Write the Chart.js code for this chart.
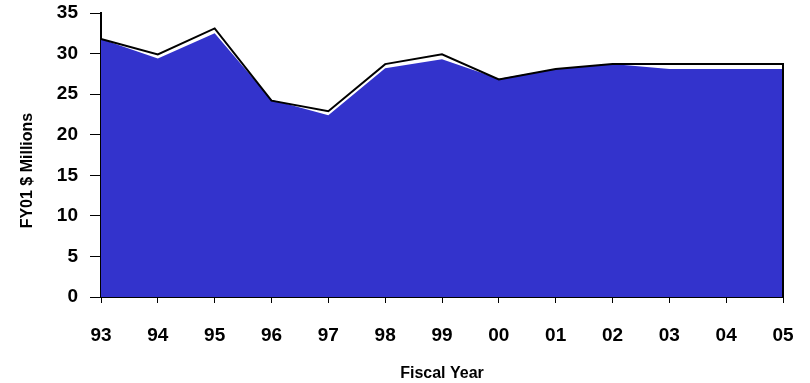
<!DOCTYPE html>
<html>
<head>
<meta charset="utf-8">
<script src="https://cdn.jsdelivr.net/npm/chart.js@4/dist/chart.umd.min.js"></script>
<style>
  html, body { margin: 0; padding: 0; background: #fff; }
  #wrap { width: 810px; height: 383px; }
</style>
</head>
<body>
<div id="wrap"><canvas id="myChart"></canvas></div>
<script>
// Fiscal years shown on the x axis
const years = ['93', '94', '95', '96', '97', '98', '99', '00', '01', '02', '03', '04', '05']
// Filled series (blue area)
const actual = [31.8, 29.4, 32.5, 24.3, 22.4, 28.2, 29.3, 26.9, 28.1, 28.7, 28.1, 28.1, 28.1]
// Outline series (black line)
const projected = [31.8, 29.9, 33.1, 24.2, 22.9, 28.7, 29.9, 26.8, 28.1, 28.7, 28.7, 28.7, 28.7]
const yTicks = [0, 5, 10, 15, 20, 25, 30, 35]

const font = { family: "'Liberation Sans', Arial, sans-serif", weight: 'bold' }

// the outline drops to the axis after the last year
const outline = projected.map((v, i) => ({ x: i, y: v }))
outline.push({ x: years.length - 1, y: 0 })

// keep the chart area where the layout padding puts it
const noEdgePadding = s => {
  s.paddingTop = 0
  s.paddingBottom = 0
  s.paddingLeft = 0
  s.paddingRight = 0
}

const ctx = document.getElementById('myChart')
new Chart(ctx, {
  type: 'line',
  data: {
    datasets: [{
      label: 'Projected',
      data: outline,
      borderColor: '#000',
      borderWidth: 2,
      pointRadius: 0,
      fill: false,
      tension: 0,
      clip: false,
      order: 0
    }, {
      label: 'Actual',
      data: actual.map((v, i) => ({ x: i, y: v })),
      borderWidth: 0,
      borderColor: 'transparent',
      backgroundColor: '#3333cc',
      pointRadius: 0,
      fill: 'origin',
      tension: 0,
      order: 1
    }]
  },
  options: {
    responsive: true,
    maintainAspectRatio: false,
    animation: false,
    layout: { padding: { top: 13, right: 27, left: 0, bottom: 0 } },
    plugins: {
      legend: { display: false },
      tooltip: { enabled: false }
    },
    scales: {
      x: {
        type: 'linear',
        min: 0,
        max: years.length - 1,
        afterFit: s => { s.height = 86; noEdgePadding(s) },
        afterBuildTicks: s => { s.ticks = years.map((_, i) => ({ value: i })) },
        border: { color: '#000', width: 2 },
        grid: { drawOnChartArea: false, drawTicks: true, tickLength: 6, color: '#000' },
        ticks: {
          padding: 21,
          maxRotation: 0,
          autoSkip: false,
          color: '#000',
          font: { ...font, size: 19 },
          callback: v => years[v]
        },
        title: {
          display: true,
          text: 'Fiscal Year',
          color: '#000',
          font: { ...font, size: 16 },
          padding: { top: 0, bottom: 0 }
        }
      },
      y: {
        min: 0,
        max: 35,
        afterFit: s => { s.width = 101; noEdgePadding(s) },
        afterBuildTicks: s => { s.ticks = yTicks.map(v => ({ value: v })) },
        border: { color: '#000', width: 2 },
        grid: { drawOnChartArea: false, drawTicks: true, tickLength: 11, color: '#000' },
        ticks: {
          padding: 12,
          color: '#000',
          font: { ...font, size: 19 }
        },
        title: {
          display: true,
          // trailing spaces push the rotated label down the axis
          text: 'FY01 $ Millions       ',
          color: '#000',
          font: { ...font, size: 16 },
          padding: { top: 18, bottom: 0 }
        }
      }
    }
  }
})
</script>
</body>
</html>
